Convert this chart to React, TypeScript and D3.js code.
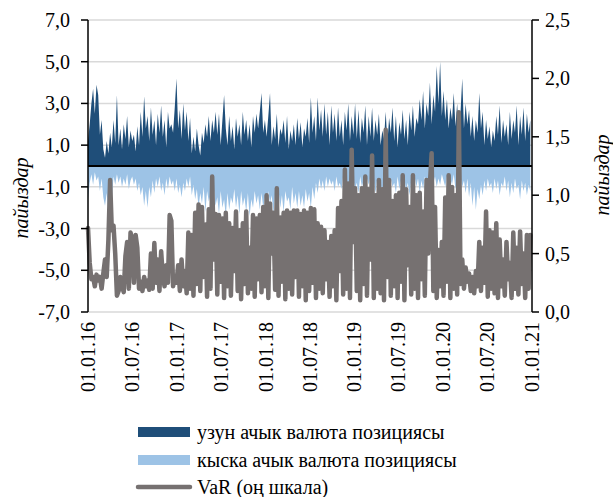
import * as d3 from 'd3';

// weekly observations starting 01.01.2016
const startDate = new Date(2016, 0, 1);

const longPosition = [
  1.2, 2.0, 3.0, 3.7, 2.5, 3.9, 3.4, 1.5, 2.2, 0.8,
  0.4, 1.2, 0.6, 1.6, 0.9, 2.2, 1.1, 3.4, 1.0, 1.8,
  0.8, 2.0, 1.3, 2.4, 0.9, 1.7, 1.2, 1.5, 0.7, 1.9,
  1.0, 2.6, 1.4, 3.35, 1.8, 2.4, 1.2, 2.8, 1.5, 2.2,
  1.0, 2.5, 1.6, 2.9, 1.4, 2.2, 0.9, 2.6, 1.8, 2.0,
  1.6, 2.8, 4.2, 1.8, 2.7, 1.3, 3.0, 1.7, 2.6, 1.2,
  2.3, 0.6, 1.4, 0.7, 1.8, 1.0, 0.5, 1.6, 1.1, 2.0,
  1.4, 2.4, 1.2, 2.2, 1.6, 2.6, 1.5, 2.5, 1.0, 2.2,
  3.4, 1.8, 1.0, 2.4, 1.2, 1.9, 0.8, 2.3, 1.4, 2.0,
  1.0, 2.6, 1.5, 2.2, 1.2, 2.0, 0.9, 2.4, 1.6, 2.5,
  1.8, 2.6, 3.5, 1.6, 2.2, 1.4, 2.4, 3.5, 1.0, 1.9,
  1.3, 2.5, 0.9, 1.8, 1.5, 2.2, 1.1, 2.4, 0.8, 1.7,
  1.2, 2.0, 1.0, 2.3, 1.3, 2.1, 0.9, 1.8, 1.4, 2.3,
  1.1, 3.3, 1.6, 2.4, 1.2, 3.3, 1.7, 2.7, 1.4, 3.0,
  1.5, 2.6, 1.0, 2.9, 1.6, 2.5, 1.2, 2.8, 1.4, 2.2,
  1.0, 2.6, 1.7, 3.0, 1.2, 2.4, 1.5, 3.0, 1.3, 2.7,
  1.1, 2.3, 1.6, 2.9, 1.0, 2.4, 1.4, 2.8, 1.2, 2.2,
  1.5, 2.5, 1.0, 1.7, 1.3, 2.6, 1.1, 2.3, 1.6, 2.8,
  1.2, 2.4, 0.9, 2.1, 1.5, 2.7, 1.3, 2.2, 1.0, 2.6,
  1.7, 2.9, 1.4, 2.3, 2.0, 3.2, 2.2, 3.6, 1.8, 3.0,
  2.4, 4.0, 2.0, 3.4, 2.6, 4.8, 3.0, 5.0, 2.4, 3.6,
  2.2, 3.2, 1.8, 2.8, 2.2, 3.5, 1.9, 3.0, 1.6, 2.6,
  4.2, 1.8, 3.0, 2.0, 2.7, 1.4, 2.4, 1.2, 2.2, 1.6,
  3.5, 1.8, 2.6, 1.0, 2.2, 1.3, 1.9, 0.9, 1.7, 1.2,
  2.4, 1.5, 2.9, 1.1, 2.2, 1.4, 2.0, 1.0, 2.6, 1.3,
  2.2, 1.6, 2.9, 1.0, 2.4, 1.5, 2.8, 1.2, 2.5, 1.6,
  2.2,
];

const shortPosition = [
  -1.6, -0.8, -0.4, -0.9, -0.3, -0.7, -0.5, -1.2, -0.6, -1.5,
  -1.9, -1.3, -2.2, -1.0, -1.6, -0.5, -0.9, -0.4, -0.8, -0.5,
  -1.0, -0.6, -0.9, -0.4, -1.1, -0.7, -0.5, -0.9, -0.6, -1.2,
  -0.8, -1.4, -1.0, -1.9, -1.2, -2.0, -1.0, -1.5, -0.7, -1.3,
  -0.6, -1.0, -0.5, -1.2, -0.8, -1.4, -0.6, -1.1, -0.5, -0.9,
  -0.7, -1.2, -0.6, -1.3, -0.9, -1.5, -0.8, -1.2, -0.6, -1.0,
  -0.5, -1.4, -0.9, -1.6, -1.1, -2.0, -1.3, -1.8, -1.0, -2.2,
  -1.2, -1.7, -1.4, -2.4, -1.1, -1.9, -1.5, -2.3, -1.2, -2.0,
  -1.6, -2.4, -1.3, -2.1, -1.5, -1.8, -1.1, -2.0, -1.4, -2.3,
  -1.2, -1.9, -1.5, -2.2, -1.3, -2.4, -1.6, -2.0, -1.2, -1.8,
  -1.4, -2.1, -1.3, -2.0, -1.5, -2.2, -1.2, -1.8, -1.4, -2.3,
  -1.3, -1.9, -1.1, -2.0, -1.4, -2.2, -1.2, -1.7, -1.5, -2.1,
  -1.0, -1.8, -1.3, -2.0, -1.2, -1.9, -1.4, -2.0, -1.1, -1.7,
  -1.3, -2.0, -1.0, -1.6, -0.8, -1.3, -0.6, -1.1, -0.7, -1.2,
  -0.5, -1.0, -0.6, -0.9, -0.7, -1.2, -0.5, -1.0, -0.8, -1.1,
  -0.5, -0.9, -0.6, -1.2, -0.7, -1.0, -0.6, -1.1, -0.8, -1.3,
  -0.5, -1.0, -0.7, -1.2, -0.6, -0.9, -0.5, -1.1, -0.7, -1.3,
  -0.6, -1.0, -0.8, -1.4, -0.5, -0.9, -0.7, -1.2, -0.6, -1.0,
  -0.8, -1.3, -0.5, -1.1, -0.7, -1.0, -0.6, -1.2, -0.8, -1.4,
  -0.7, -1.1, -0.5, -1.0, -0.6, -1.3, -0.7, -1.1, -0.5, -0.9,
  -0.6, -1.2, -0.4, -0.8, -0.5, -1.0, -0.6, -0.9, -0.4, -0.7,
  -1.0, -0.5, -1.2, -0.6, -0.9, -0.4, -1.1, -0.6, -0.8, -0.5,
  -1.0, -0.7, -1.3, -0.6, -1.5, -0.8, -1.9, -1.0, -2.1, -1.1,
  -1.6, -0.9, -1.4, -0.7, -1.2, -0.6, -1.0, -0.8, -1.3, -0.6,
  -1.1, -0.7, -1.4, -0.8, -1.0, -0.5, -1.2, -0.7, -1.5, -0.8,
  -1.3, -0.6, -1.1, -0.9, -1.6, -0.7, -1.2, -0.8, -1.4, -0.9,
  -1.2,
];

const valueAtRisk = [
  0.72, 0.42, 0.28, 0.3, 0.22, 0.32, 0.27, 0.3, 0.2, 0.33,
  0.45, 0.3, 0.62, 1.13, 0.7, 0.74, 0.5, 0.14, 0.18, 0.3,
  0.22, 0.17, 0.48, 0.6, 0.2, 0.68, 0.62, 0.25, 0.66, 0.55,
  0.2, 0.26, 0.18, 0.3, 0.22, 0.27, 0.19, 0.5, 0.2, 0.59,
  0.25, 0.45, 0.18, 0.52, 0.3, 0.22, 0.4, 0.25, 0.83, 0.78,
  0.22, 0.3,
  0.25, 0.4, 0.18, 0.45, 0.22, 0.35, 0.16, 0.68, 0.2, 0.66,
  0.14, 0.85, 0.24, 0.92, 0.18, 0.9, 0.3, 0.75, 0.13, 0.88,
  0.2, 1.16, 0.45, 0.84, 0.15, 0.83, 0.26, 0.8, 0.12, 0.85,
  0.22, 0.76, 0.14, 0.72, 0.35, 0.86, 0.18, 0.7, 0.11, 0.76,
  0.24, 0.86, 0.16, 0.55, 0.2, 0.83, 0.13, 0.8, 0.28, 0.83,
  0.17, 0.9, 0.22, 1.0, 0.12, 0.93, 0.5, 0.85, 0.19, 1.06,
  0.14, 0.81, 0.26, 0.85, 0.11, 0.87, 0.2, 0.85, 0.15, 0.87,
  0.3, 0.87, 0.13, 0.84, 0.22, 0.87, 0.1, 0.85, 0.18, 0.89,
  0.25, 0.88, 0.12, 0.76, 0.2, 0.73, 0.16, 0.7, 0.28, 0.6,
  0.13, 0.65, 0.22, 0.7, 0.1, 0.89, 0.35, 0.95, 0.15, 1.22,
  0.2, 1.1, 0.12, 1.39, 0.6, 1.06, 0.18, 1.0, 0.1, 1.06,
  0.24, 1.16, 0.14, 1.05, 0.45, 1.34, 0.12, 1.0, 0.2, 1.13,
  0.16, 1.05, 0.1, 1.56, 0.3, 1.13, 0.14, 0.95, 0.22, 1.0,
  0.12, 1.02, 0.26, 1.17, 0.1, 1.05, 0.4, 0.9, 0.15, 1.17,
  0.2, 1.0, 0.12, 1.02, 0.28, 0.86, 0.14, 1.13, 0.5, 1.1,
  1.36, 0.18, 0.9, 0.12, 0.53, 0.22, 0.6, 0.14, 0.98, 0.26,
  1.17, 0.12, 1.07, 0.2, 1.0, 0.15, 1.71, 0.24, 0.45, 0.2,
  0.38, 0.26, 0.33, 0.18, 0.3, 0.16, 0.35, 0.22, 0.6, 0.18,
  0.55, 0.25, 0.86, 0.13, 0.7, 0.2, 0.68, 0.16, 0.76, 0.12,
  0.62, 0.22, 0.45, 0.14, 0.6, 0.28, 0.42, 0.12, 0.68, 0.2,
  0.55, 0.15, 0.69, 0.24, 0.5, 0.12, 0.66, 0.2, 0.66,
];

const leftTicks = [-7, -5, -3, -1, 1, 3, 5, 7];
const rightTicks = [0, 0.5, 1, 1.5, 2, 2.5];
const dateTicks = [
  '01.01.16', '01.07.16', '01.01.17', '01.07.17', '01.01.18', '01.07.18',
  '01.01.19', '01.07.19', '01.01.20', '01.07.20', '01.01.21',
];
const legendLabels = ['узун ачык валюта позициясы', 'кыска ачык валюта позициясы', 'VaR (оң шкала)'];
const axisTitle = 'пайыздар';

const colors = { long: '#1F4E79', short: '#9DC3E6', var: '#767171', grid: '#D9D9D9' };

const W = 613;
const H = 497;
const margin = { left: 88, right: 81, top: 20, bottom: 185 };
const textStyle = { fontFamily: '"Liberation Serif", "Times New Roman", serif', fontSize: 20 };

const parseTick = d3.timeParse('%d.%m.%y');
const fmt = (v: number) => d3.format('.1f')(v).replace('.', ',').replace('−', '-');

export default function App() {
  const x0 = margin.left;
  const x1 = W - margin.right;
  const y0 = margin.top;
  const y1 = H - margin.bottom;

  const dates = valueAtRisk.map((_, i) => d3.timeDay.offset(startDate, i * 7));

  const x = d3.scaleTime()
    .domain([parseTick(dateTicks[0])!, parseTick(dateTicks[dateTicks.length - 1])!])
    .range([x0, x1]);
  const yLeft = d3.scaleLinear().domain([-7, 7]).range([y1, y0]);
  const yRight = d3.scaleLinear().domain([0, 2.5]).range([y1, y0]);

  const area = d3.area<number>()
    .x((_, i) => x(dates[i]))
    .y0(yLeft(0))
    .y1(d => yLeft(d));

  const varLine = d3.line<number>()
    .x((_, i) => x(dates[i]))
    .y(d => yRight(d));

  const legendX = 138;
  const legendY = [432, 460, 487];

  return (
    <svg width={W} height={H} style={{ position: 'absolute', left: 0, top: 0, background: '#fff' }}>
      {/* gridlines */}
      {leftTicks.map(t => (
        <line key={t} x1={x0} x2={x1} y1={yLeft(t)} y2={yLeft(t)} stroke={colors.grid} strokeWidth={1.5} />
      ))}

      <path d={area(longPosition)!} fill={colors.long} />
      <path d={area(shortPosition)!} fill={colors.short} />
      <line x1={x0} x2={x1} y1={yLeft(0)} y2={yLeft(0)} stroke="#000" strokeWidth={2} />
      <path d={varLine(valueAtRisk)!} fill="none" stroke={colors.var} strokeWidth={4.5}
        strokeLinejoin="round" strokeLinecap="round" />

      {/* left axis */}
      <line x1={x0} x2={x0} y1={y0} y2={y1} stroke="#000" strokeWidth={1.5} />
      {leftTicks.map(t => (
        <g key={t}>
          <line x1={x0 - 7} x2={x0} y1={yLeft(t)} y2={yLeft(t)} stroke="#000" strokeWidth={1.5} />
          <text x={x0 - 18} y={yLeft(t)} dy="0.35em" textAnchor="end" style={textStyle}>{fmt(t)}</text>
        </g>
      ))}

      {/* right axis */}
      <line x1={x1} x2={x1} y1={y0} y2={y1} stroke="#000" strokeWidth={1.5} />
      {rightTicks.map(t => (
        <g key={t}>
          <line x1={x1} x2={x1 + 7} y1={yRight(t)} y2={yRight(t)} stroke="#000" strokeWidth={1.5} />
          <text x={x1 + 13} y={yRight(t)} dy="0.35em" textAnchor="start" style={textStyle}>{fmt(t)}</text>
        </g>
      ))}

      {/* date labels */}
      {dateTicks.map(d => {
        const px = x(parseTick(d)!);
        return (
          <text key={d} transform={`translate(${px},${y1 + 10}) rotate(-90)`} dy="0.35em"
            textAnchor="end" style={textStyle}>{d}</text>
        );
      })}

      {/* axis titles */}
      <text transform={`translate(21,198) rotate(-90)`} dy="0.35em" textAnchor="middle"
        style={{ ...textStyle, fontStyle: 'italic' }}>{axisTitle}</text>
      <text transform={`translate(602,175) rotate(-90)`} dy="0.35em" textAnchor="middle"
        style={{ ...textStyle, fontStyle: 'italic' }}>{axisTitle}</text>

      {/* legend */}
      <rect x={legendX} y={legendY[0] - 5} width={52} height={10} fill={colors.long} />
      <rect x={legendX} y={legendY[1] - 5} width={52} height={10} fill={colors.short} />
      <line x1={legendX} x2={legendX + 52} y1={legendY[2]} y2={legendY[2]} stroke={colors.var} strokeWidth={4.5}
        strokeLinecap="round" />
      {legendLabels.map((l, i) => (
        <text key={l} x={legendX + 59} y={legendY[i]} dy="0.35em" style={textStyle}>{l}</text>
      ))}
    </svg>
  );
}
